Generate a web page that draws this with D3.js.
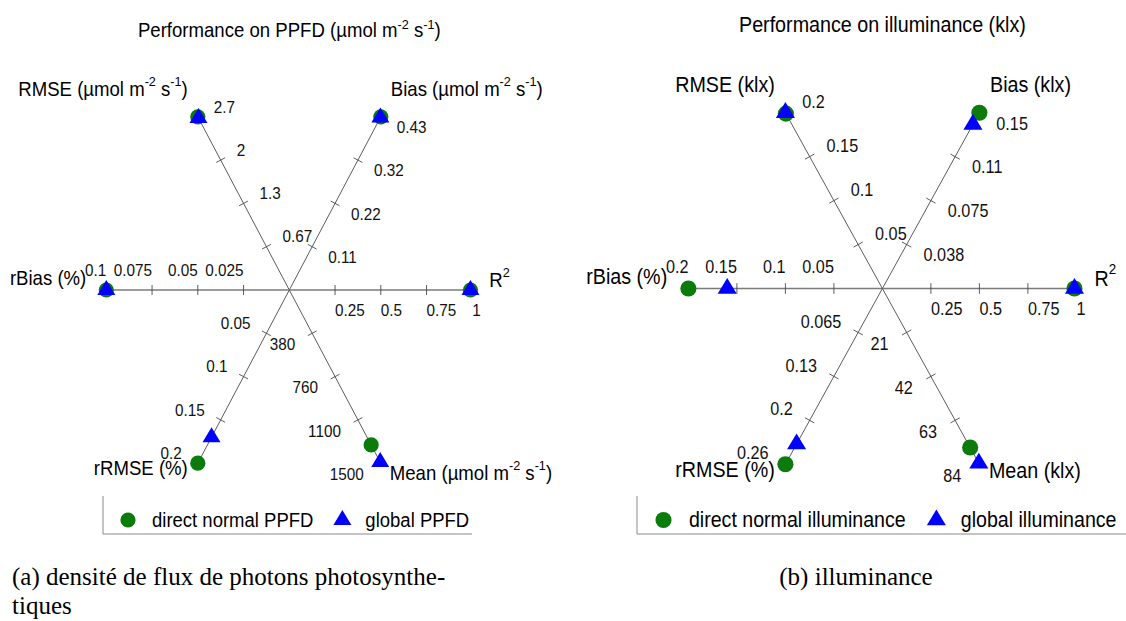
<!DOCTYPE html>
<html><head><meta charset="utf-8">
<script src="https://cdn.jsdelivr.net/npm/d3@7/dist/d3.min.js"></script>
<style>body{margin:0;background:#fff}svg{display:block}</style>
</head><body><svg id="c" width="1126" height="621"></svg>
<script>
// ---------------- data ----------------
const axisKeys   = ["RMSE", "Bias", "R2", "Mean", "rRMSE", "rBias"];
const axisAngles = [120, 60, 0, -60, -120, 180];

const ppfdTitle = "Performance on PPFD (\u00b5mol m^-2 s^-1)";
const ppfdAxisTitles = ["RMSE (\u00b5mol m^-2 s^-1)", "Bias (\u00b5mol m^-2 s^-1)", "R^2", "Mean (\u00b5mol m^-2 s^-1)", "rRMSE (%)", "rBias (%)"];
const ppfdMax = [2.7, 0.43, 1, 1520, 0.2, 0.1];
const ppfdTickLabels = [
  ["0.67", "1.3", "2", "2.7"],
  ["0.11", "0.22", "0.32", "0.43"],
  ["0.25", "0.5", "0.75", "1"],
  ["380", "760", "1100", "1500"],
  ["0.05", "0.1", "0.15", "0.2"],
  ["0.025", "0.05", "0.075", "0.1"]
];
const ppfdDirect = [2.7, 0.43, 0.99, 1360, 0.2, 0.1];
const ppfdGlobal = [2.68, 0.428, 0.99, 1510, 0.17, 0.1];
const ppfdSeries = ["direct normal PPFD", "global PPFD"];

const illumTitle = "Performance on illuminance (klx)";
const illumAxisTitles = ["RMSE (klx)", "Bias (klx)", "R^2", "Mean (klx)", "rRMSE (%)", "rBias (%)"];
const illumMax = [0.2, 0.15, 1, 84, 0.26, 0.2];
const illumTickLabels = [
  ["0.05", "0.1", "0.15", "0.2"],
  ["0.038", "0.075", "0.11", "0.15"],
  ["0.25", "0.5", "0.75", "1"],
  ["21", "42", "63", "84"],
  ["0.065", "0.13", "0.2", "0.26"],
  ["0.05", "0.1", "0.15", "0.2"]
];
const illumDirect = [0.199, 0.15, 0.99, 76, 0.26, 0.2];
const illumGlobal = [0.2, 0.14, 0.99, 83.5, 0.23, 0.16];
const illumSeries = ["direct normal illuminance", "global illuminance"];

const captionA = ["(a) densit\u00e9 de flux de photons photosynthe-", "tiques"];
const captionB = "(b) illuminance";

// ---------------- layout ----------------
const GREEN = "#0b7b0b", BLUE = "#0000ff";
const SANS = "'Liberation Sans', Arial, sans-serif";
const STRETCH = 1.08;
const svg = d3.select("#c");
svg.append("rect").attr("width", 1126).attr("height", 621).attr("fill", "#fff");

const tickLayout = {
  RMSE:  {anchor: "start", dx: 16,  dy: -10},
  Bias:  {anchor: "start", dx: 16,  dy: 10.5},
  R2:    {anchor: "start", dx: 0,   dy: 20},
  Mean:  {anchor: "end",   dx: -17, dy: 11},
  rRMSE: {anchor: "end",   dx: -16, dy: -10},
  rBias: {anchor: "end",   dx: 0,   dy: -20}
};
const titleLayout = {
  RMSE:  {anchor: "end",   dx: -10, dy: -27.8},
  Bias:  {anchor: "start", dx: 10,  dy: -27.8},
  R2:    {anchor: "start", dx: 17,  dy: -10},
  Mean:  {anchor: "start", dx: 9,   dy: 5.5},
  rRMSE: {anchor: "end",   dx: -10, dy: 4.5},
  rBias: {anchor: "end",   dx: -20, dy: -12.5}
};

function placed(parent, x, y) {
  return parent.append("text")
    .attr("transform", `translate(${x},${y}) scale(1,${STRETCH})`)
    .attr("font-family", SANS).attr("fill", "#000");
}

function richText(sel, str, fs) {
  const parts = str.split(/(\^-?\d)/).filter(s => s.length);
  let up = false;
  parts.forEach(p => {
    if (p[0] === "^") {
      sel.append("tspan").attr("font-size", fs * 0.68).attr("dy", -fs * 0.42).text(p.slice(1));
      up = true;
    } else {
      const t = sel.append("tspan").text(p);
      if (up) { t.attr("dy", fs * 0.42); up = false; }
    }
  });
}

function panel(cfg) {
  const g = svg.append("g");
  const k = cfg.k;
  const fsTick = 15.3 * k, fsLab = 18.6 * k;

  const dirs = axisAngles.map(a => {
    const r = a * Math.PI / 180;
    return [Math.cos(r) * cfg.rx, -Math.sin(r) * cfg.ry];
  });
  const scales = cfg.max.map(m => d3.scaleLinear().domain([0, m]).range([0, 1]));
  const pos = (i, v) => {
    const t = scales[i](v);
    return [cfg.cx + dirs[i][0] * t, cfg.cy + dirs[i][1] * t];
  };

  // title
  const tt = placed(g, cfg.cx, cfg.titleY).attr("text-anchor", "middle").attr("font-size", fsLab);
  richText(tt, cfg.title, fsLab);

  axisKeys.forEach((key, i) => {
    const end = pos(i, cfg.max[i]);
    const horiz = axisAngles[i] === 0 || axisAngles[i] === 180;
    g.append("line").attr("x1", cfg.cx).attr("y1", cfg.cy).attr("x2", end[0]).attr("y2", end[1])
      .attr("stroke", horiz ? "#7a7a7a" : "#4a4a4a").attr("stroke-width", horiz ? 1.5 : 0.9);

    const len = Math.hypot(dirs[i][0], dirs[i][1]);
    const n = [-dirs[i][1] / len, dirs[i][0] / len];
    const tvals = d3.range(1, 5).map(j => cfg.max[i] * j / 4);
    tvals.forEach((v, j) => {
      const p = pos(i, v);
      if (j < 3) {
        g.append("line")
          .attr("x1", p[0] - n[0] * 5 * k).attr("y1", p[1] - n[1] * 5 * k)
          .attr("x2", p[0] + n[0] * 5 * k).attr("y2", p[1] + n[1] * 5 * k)
          .attr("stroke", "#4a4a4a").attr("stroke-width", 0.9);
      }
      const L = tickLayout[key];
      placed(g, p[0] + L.dx * k, p[1] + L.dy * k)
        .attr("text-anchor", L.anchor).attr("dominant-baseline", "central")
        .attr("font-size", fsTick).attr("fill", "#111")
        .text(cfg.ticks[i][j]);
    });

    const T = titleLayout[key];
    const hasSup = /\^-/.test(cfg.axisTitles[i]);
    const extra = (key === "Mean" && hasSup) ? 4.5 : 0;
    const at = placed(g, end[0] + T.dx * k, end[1] + T.dy * k + extra)
      .attr("text-anchor", T.anchor).attr("dominant-baseline", "central")
      .attr("font-size", fsLab);
    richText(at, cfg.axisTitles[i], fsLab);
  });

  // markers
  const tri = d3.line()([[0, -10 * k], [9 * k, 5 * k], [-9 * k, 5 * k]]) + "Z";
  g.selectAll("circle.d").data(cfg.direct).join("circle")
    .attr("cx", (v, i) => pos(i, v)[0]).attr("cy", (v, i) => pos(i, v)[1])
    .attr("r", 7.6 * k).attr("fill", GREEN);
  g.selectAll("path.g").data(cfg.global).join("path")
    .attr("transform", (v, i) => `translate(${pos(i, v)[0]},${pos(i, v)[1]})`)
    .attr("d", tri).attr("fill", BLUE);

  // legend
  const lg = g.append("g");
  lg.append("path").attr("d", `M${cfg.legX},${cfg.legTop}V${cfg.legBot}H${cfg.legRight}`)
    .attr("fill", "none").attr("stroke", "#8a8a8a").attr("stroke-width", 1);
  const fsLeg = 18.5 * k, ly = 520;
  let x = cfg.legX + 25 * k;
  lg.append("circle").attr("cx", x).attr("cy", ly).attr("r", 7.6 * k).attr("fill", GREEN);
  const t1 = placed(lg, x + 24 * k, ly).attr("dominant-baseline", "central")
    .attr("font-size", fsLeg).text(cfg.series[0]);
  x = x + 24 * k + t1.node().getComputedTextLength() + 29 * k;
  lg.append("path").attr("transform", `translate(${x},${ly})`).attr("d", tri).attr("fill", BLUE);
  placed(lg, x + 23 * k, ly).attr("dominant-baseline", "central")
    .attr("font-size", fsLeg).text(cfg.series[1]);
}

panel({cx: 289.3, cy: 290, rx: 183, ry: 200, k: 1, titleY: 37,
  title: ppfdTitle, axisTitles: ppfdAxisTitles, max: ppfdMax, ticks: ppfdTickLabels,
  direct: ppfdDirect, global: ppfdGlobal, series: ppfdSeries,
  legX: 103, legTop: 496, legBot: 534, legRight: 472});

panel({cx: 882.4, cy: 288.5, rx: 194, ry: 203, k: 1.06, titleY: 32,
  title: illumTitle, axisTitles: illumAxisTitles, max: illumMax, ticks: illumTickLabels,
  direct: illumDirect, global: illumGlobal, series: illumSeries,
  legX: 637, legTop: 496, legBot: 534, legRight: 1126});

// captions
const SERIF = "'Liberation Serif', 'Times New Roman', serif";
function caption(x, y, str, anchor) {
  svg.append("text").attr("x", x).attr("y", y)
    .attr("text-anchor", anchor).attr("font-family", SERIF).attr("font-size", 25).attr("fill", "#000").text(str);
}
caption(12, 585, captionA[0], "start");
caption(12, 614, captionA[1], "start");
caption(856, 585, captionB, "middle");
</script></body></html>
